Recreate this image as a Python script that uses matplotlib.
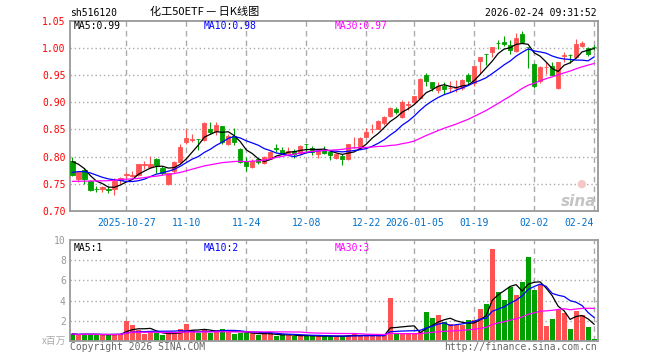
import numpy as np
import pandas as pd
import matplotlib
matplotlib.use('Agg')
import matplotlib.pyplot as plt

plt.rcParams['font.family'] = ['DejaVu Sans Mono']
CJK = ['Noto Sans CJK SC', 'DejaVu Sans']

# 日K数据 2025-10-14 .. 2026-02-24 (88 trading days)
opens = [0.792, 0.759, 0.776, 0.756, 0.741, 0.740, 0.741, 0.740, 0.757, 0.766,
         0.764, 0.766, 0.785, 0.781, 0.796, 0.779, 0.750, 0.773, 0.790, 0.826,
         0.831, 0.833, 0.831, 0.851, 0.848, 0.856, 0.823, 0.8375, 0.814, 0.792,
         0.781, 0.795, 0.789, 0.796, 0.815, 0.8125, 0.8075, 0.8105, 0.806, 0.823,
         0.815, 0.8045, 0.8125, 0.8085, 0.7975, 0.801, 0.795, 0.818, 0.8165, 0.8365,
         0.8505, 0.8515, 0.862, 0.8755, 0.8885, 0.872, 0.8955, 0.900, 0.9085, 0.9505,
         0.9365, 0.923, 0.930, 0.9255, 0.927, 0.926, 0.9506, 0.935, 0.975, 0.9885,
         0.9926, 1.0095, 1.0105, 1.006, 0.9938, 1.0247, 1.0015, 0.971, 0.9383, 0.9645,
         0.966, 0.926, 0.9855, 0.9875, 0.9833, 1.0043, 1.000, 1.002]
highs = [0.800, 0.772, 0.779, 0.757, 0.746, 0.746, 0.746, 0.761, 0.763, 0.772,
         0.774, 0.787, 0.792, 0.802, 0.798, 0.783, 0.770, 0.792, 0.823, 0.850,
         0.842, 0.833, 0.864, 0.864, 0.864, 0.857, 0.842, 0.8525, 0.815, 0.800,
         0.795, 0.798, 0.801, 0.811, 0.823, 0.817, 0.818, 0.814, 0.821, 0.823,
         0.820, 0.812, 0.820, 0.810, 0.807, 0.804, 0.8225, 0.8365, 0.836, 0.8525,
         0.860, 0.867, 0.8745, 0.8915, 0.8915, 0.905, 0.902, 0.911, 0.9445, 0.954,
         0.9365, 0.9365, 0.9365, 0.9385, 0.9415, 0.9426, 0.9537, 0.967, 0.983, 0.989,
         1.002, 1.0136, 1.0216, 1.0154, 1.0265, 1.031, 1.002, 0.9722, 0.967, 0.9735,
         0.9735, 0.974, 0.992, 0.9883, 1.0167, 1.0123, 1.001, 1.006]
lows = [0.764, 0.754, 0.750, 0.736, 0.735, 0.735, 0.734, 0.729, 0.750, 0.761,
        0.762, 0.764, 0.778, 0.779, 0.769, 0.767, 0.748, 0.770, 0.788, 0.823,
        0.826, 0.812, 0.829, 0.842, 0.839, 0.824, 0.821, 0.821, 0.7875, 0.773,
        0.779, 0.786, 0.787, 0.795, 0.809, 0.806, 0.804, 0.798, 0.804, 0.8075,
        0.8025, 0.798, 0.804, 0.794, 0.795, 0.784, 0.794, 0.815, 0.815, 0.8355,
        0.844, 0.850, 0.859, 0.873, 0.8775, 0.871, 0.8865, 0.899, 0.9075, 0.9305,
        0.920, 0.917, 0.915, 0.918, 0.918, 0.923, 0.934, 0.929, 0.9525, 0.968,
        0.983, 0.9988, 1.003, 0.9895, 0.9926, 1.009, 0.963, 0.926, 0.936, 0.9525,
        0.9475, 0.9247, 0.9735, 0.972, 0.9815, 1.002, 0.9846, 0.997]
closes = [0.767, 0.771, 0.758, 0.739, 0.740, 0.744, 0.739, 0.756, 0.760, 0.768,
          0.767, 0.786, 0.786, 0.787, 0.784, 0.769, 0.769, 0.790, 0.818, 0.834,
          0.832, 0.832, 0.8625, 0.845, 0.858, 0.826, 0.8375, 0.826, 0.790, 0.7825,
          0.792, 0.790, 0.800, 0.809, 0.814, 0.8075, 0.8105, 0.8045, 0.820, 0.8225,
          0.809, 0.8105, 0.8075, 0.8025, 0.805, 0.795, 0.8225, 0.8185, 0.8335, 0.8445,
          0.8515, 0.865, 0.8725, 0.8895, 0.882, 0.900, 0.896, 0.911, 0.9425, 0.9385,
          0.926, 0.930, 0.9245, 0.926, 0.928, 0.9414, 0.9383, 0.966, 0.983, 0.988,
          1.002, 1.009, 1.007, 0.9957, 1.0185, 1.0105, 1.001, 0.929, 0.965, 0.965,
          0.9506, 0.974, 0.986, 0.987, 1.0074, 1.009, 0.989, 1.0015]
# 成交量 (百万)
volumes = [0.7, 0.6, 0.7, 0.65, 0.65, 0.6, 0.6, 0.7, 0.7, 2.0,
           1.6, 1.05, 0.7, 0.9, 0.8, 0.6, 0.7, 0.75, 1.15, 1.65,
           1.1, 0.8, 1.05, 0.8, 1.1, 1.2, 0.9, 0.7, 0.8, 0.8,
           0.8, 0.55, 0.7, 0.75, 0.5, 0.55, 0.6, 0.5, 0.5, 0.5,
           0.5, 0.45, 0.5, 0.5, 0.4, 0.5, 0.6, 0.7, 0.5, 0.55,
           0.5, 0.5, 0.6, 4.3, 0.8, 0.8, 0.8, 0.8, 0.9, 2.87,
           2.27, 2.57, 1.9, 1.67, 1.57, 1.57, 2.07, 2.07, 3.17, 3.67,
           9.07, 4.9, 4.07, 5.3, 4.57, 5.87, 8.27, 5.07, 5.5, 1.5,
           2.13, 3.03, 2.8, 1.23, 2.97, 2.57, 1.37, 0.17]

# 均线起始段 (读图, 之前的数据不在图内)
ma5_head = [0.791, 0.786, 0.778, 0.765]
ma10_head = [0.771, 0.7725, 0.7725, 0.770, 0.766, 0.762, 0.759, 0.7575, 0.756]
ma30_head = [0.7545, 0.7547, 0.7549, 0.7551, 0.7553, 0.7555, 0.7557, 0.7565, 0.758, 0.7585,
             0.759, 0.760, 0.7615, 0.763, 0.764, 0.766, 0.767, 0.769, 0.771, 0.774,
             0.777, 0.780, 0.783, 0.785, 0.787, 0.789, 0.790, 0.791, 0.7915]

tick_idx = [9, 19, 29, 39, 49, 57, 67, 77, 87]
tick_labels = ['2025-10-27', '11-10', '11-24', '12-08', '12-22', '2026-01-05', '01-19', '02-02', '02-24']

price_ticks = [0.70, 0.75, 0.80, 0.85, 0.90, 0.95, 1.00, 1.05]
vol_ticks = [2, 4, 6, 8, 10]

RED = '#ff5252'
GREEN = '#00a000'
GRID = '#aaaaaa'
FRAME = '#999999'

opens = np.array(opens); closes = np.array(closes)
highs = np.array(highs); lows = np.array(lows); volumes = np.array(volumes)
x = np.arange(len(closes))
colors = np.where(closes >= opens, RED, GREEN)


def ma(vals, n, head=None):
    s = pd.Series(vals).rolling(n, min_periods=1).mean().to_numpy()
    if head is not None:
        s[:len(head)] = head
    return s


fig = plt.figure(figsize=(6.6, 3.6), dpi=100)
W, H = 660.0, 360.0
ax = fig.add_axes([70 / W, 1 - 211 / H, 527.7 / W, 190.3 / H])
axv = fig.add_axes([70 / W, 1 - 341 / H, 527.7 / W, 101 / H])

for a in (ax, axv):
    a.set_xlim(-0.4, 87.6)
    for s in a.spines.values():
        s.set_color(FRAME)
        s.set_linewidth(1.3)
    for t in tick_idx:
        a.axvline(t, color=GRID, lw=1, ls=(0, (4, 3)), zorder=0)

# K线
ax.vlines(x, lows, highs, color=colors, lw=0.8, zorder=2)
ax.bar(x, np.abs(closes - opens), bottom=np.minimum(opens, closes), width=0.72,
       color=colors, edgecolor=colors, linewidth=0.6, zorder=3)
ax.plot(x, ma(closes, 5, ma5_head), color='black', lw=0.9, zorder=4)
ax.plot(x, ma(closes, 10, ma10_head), color='#0000ff', lw=0.9, zorder=4)
ax.plot(x, ma(closes, 30, ma30_head), color='#ff00ff', lw=0.9, zorder=4)

ax.set_ylim(0.70, 1.05)
for lv in price_ticks[1:-1]:
    ax.axhline(lv, color=GRID, lw=1, ls=(0, (1, 2)), zorder=0)
ax.set_yticks(price_ticks, ['%.2f' % v for v in price_ticks])
ax.tick_params(axis='y', length=0, pad=3, labelcolor='red', labelsize=7)
ax.set_xticks(tick_idx, tick_labels)
ax.tick_params(axis='x', length=0, pad=5, labelcolor='#0070cc', labelsize=7)
ax.get_xticklabels()[-1].set_ha('right')

# 成交量
axv.bar(x, volumes, width=0.8, color=colors, linewidth=0, zorder=2)
axv.plot(x, ma(volumes, 5), color='black', lw=0.9, zorder=4)
axv.plot(x, ma(volumes, 10), color='#0000ff', lw=0.9, zorder=4)
axv.plot(x, ma(volumes, 30), color='#ff00ff', lw=0.9, zorder=4)
axv.set_ylim(0, 10)
for lv in vol_ticks[:-1]:
    axv.axhline(lv, color=GRID, lw=1, ls=(0, (1, 2)), zorder=0)
axv.set_yticks(vol_ticks, [str(v) for v in vol_ticks])
axv.tick_params(axis='y', length=0, pad=3, labelcolor='#999999', labelsize=7)
axv.set_xticks(tick_idx)
axv.tick_params(axis='x', length=0, labelbottom=False)


def ptext(px, py, s, **kw):
    kw.setdefault('fontsize', 7)
    kw.setdefault('va', 'center')
    fig.text(px / W, 1 - py / H, s, **kw)


ptext(70, 13, 'sh516120')
ptext(150, 12, '化工50ETF — 日K线图', fontsize=8, family=CJK)
ptext(597, 13, '2026-02-24 09:31:52', ha='right')
ptext(74, 26, 'MA5:0.99', color='black')
ptext(204, 26, 'MA10:0.98', color='#0000ff')
ptext(334.5, 26, 'MA30:0.97', color='#ff00ff')
ptext(74, 248, 'MA5:1', color='black')
ptext(204, 248, 'MA10:2', color='#0000ff')
ptext(334.5, 248, 'MA30:3', color='#ff00ff')
ptext(66, 341, 'x百万', ha='right', color='#aaaaaa', family=CJK)
ptext(70, 347, 'Copyright 2026 SINA.COM', color='#666666')
ptext(597, 347, 'http://finance.sina.com.cn', ha='right', color='#666666')
# sina 水印
ptext(581, 184, '●', fontsize=8, ha='center', color='#f4c8c8', family=['DejaVu Sans'])
ptext(596, 201, 'sina', fontsize=11, ha='right', color='#c4c4c4',
      family=['DejaVu Sans'], style='italic', weight='bold')

fig.savefig('out.png', dpi=100)
